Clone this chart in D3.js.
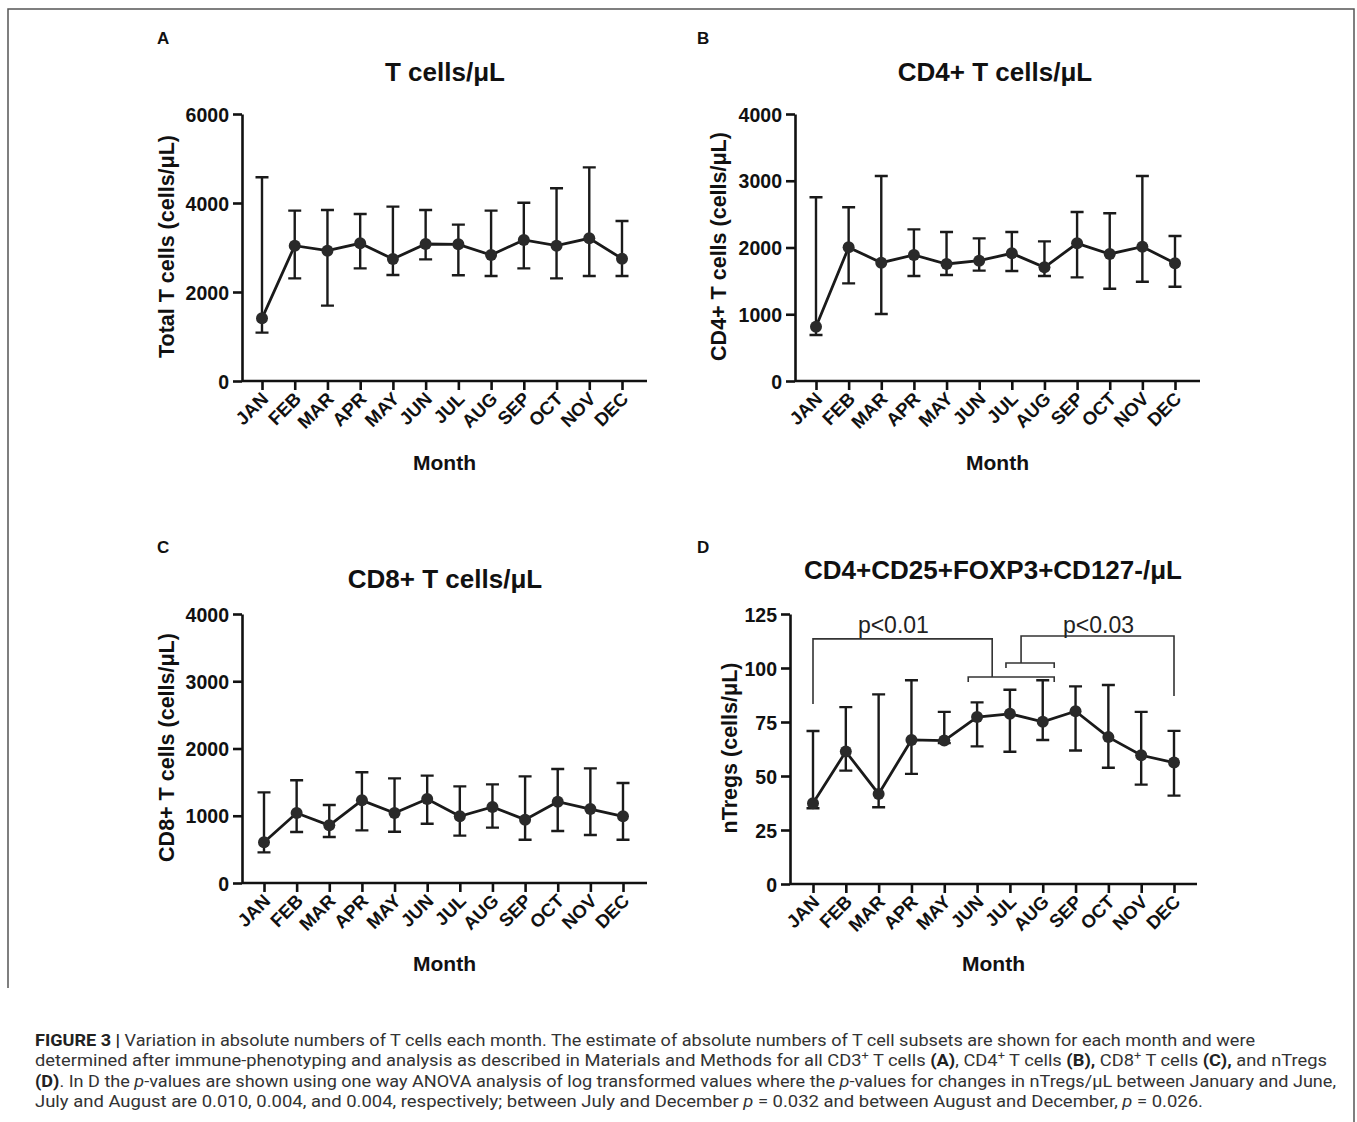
<!DOCTYPE html>
<html>
<head>
<meta charset="utf-8">
<script src="https://cdn.jsdelivr.net/npm/d3@7"></script>
<style>
body{margin:0;background:#fff}
svg{display:block}
.tick text{font-family:"Liberation Sans",Arial,sans-serif;font-weight:bold;fill:#111}
</style>
</head>
<body>
<svg id="fig" width="1357" height="1122"></svg>
<script>
// months on the x axis
const months = ["JAN","FEB","MAR","APR","MAY","JUN","JUL","AUG","SEP","OCT","NOV","DEC"];

// A - total T cells / uL
const tMean = [1408,3041,2929,3094,2742,3079,3071,2831,3169,3041,3206,2749];
const tHi   = [4577,3828,3843,3753,3918,3843,3513,3828,4007,4330,4801,3596];
const tLo   = [1086,2307,1693,2532,2382,2734,2375,2360,2532,2307,2360,2360];

// B - CD4+ T cells / uL
const cd4Mean = [814,2002,1773,1888,1753,1803,1913,1703,2062,1903,2012,1763];
const cd4Hi   = [2752,2602,3071,2272,2232,2137,2232,2092,2532,2512,3071,2172];
const cd4Lo   = [689,1463,1004,1573,1588,1653,1648,1573,1553,1383,1488,1413];

// C - CD8+ T cells / uL
const cd8Mean = [605,1041,857,1229,1041,1249,991,1130,942,1209,1100,991];
const cd8Hi   = [1347,1527,1160,1646,1556,1596,1437,1467,1586,1695,1705,1487];
const cd8Lo   = [456,758,684,783,763,882,704,823,644,773,714,644];

// D - nTregs / uL
const tregMean = [37.4,61.3,41.7,66.7,66.4,77.3,78.8,75.1,80.0,68.0,59.6,56.2];
const tregHi   = [70.8,81.9,87.8,94.3,79.7,84.1,89.9,94.3,91.5,92.1,79.7,70.9];
const tregLo   = [35.1,52.5,35.5,51.0,65.2,63.7,61.2,66.7,61.8,53.8,46.0,40.9];

// significance brackets in panel D (month index, value)
const brackets = [
  {pts:[[0,83.3],[0,113.5],[5.46,113.5],[5.46,95.8]]},
  {pts:[[4.73,93.5],[4.73,95.8],[7.35,95.8],[7.35,93.5]]},
  {pts:[[5.88,100],[5.88,102.3],[7.35,102.3],[7.35,100]]},
  {pts:[[6.34,102.3],[6.34,114.8],[11,114.8],[11,87]]}
];
const pLabels = [{text:"p<0.01", x:2.45, y:116}, {text:"p<0.03", x:8.7, y:116}];

const svg = d3.select("#fig");
const FONT = '"Liberation Sans",Arial,sans-serif';

// frame
const frame = svg.append("g").attr("stroke","#555").attr("stroke-width",1.5).attr("fill","none");
frame.append("path").attr("d","M8,988 L8,9 L1354,9 L1354,1122");

const panels = [
  {letter:"A", lx:157, ly:44, title:"T cells/\u03bcL", tx:445, ty:81,
   left:242, right:647, top:114, bottom:381, x0:262, x1:622,
   ymax:6000, yticks:[0,2000,4000,6000], ylab:"Total T cells (cells/\u03bcL)", ylx:174, mlabY:470,
   mean:tMean, hi:tHi, lo:tLo},
  {letter:"B", lx:697, ly:44, title:"CD4+ T cells/\u03bcL", tx:995, ty:81,
   left:795, right:1200, top:114, bottom:381, x0:816, x1:1175,
   ymax:4000, yticks:[0,1000,2000,3000,4000], ylab:"CD4+ T cells (cells/\u03bcL)", ylx:726, mlabY:470,
   mean:cd4Mean, hi:cd4Hi, lo:cd4Lo},
  {letter:"C", lx:157, ly:553, title:"CD8+ T cells/\u03bcL", tx:445, ty:588,
   left:242, right:647, top:614, bottom:883, x0:264, x1:623,
   ymax:4000, yticks:[0,1000,2000,3000,4000], ylab:"CD8+ T cells (cells/\u03bcL)", ylx:174, mlabY:971,
   mean:cd8Mean, hi:cd8Hi, lo:cd8Lo},
  {letter:"D", lx:697, ly:553, title:"CD4+CD25+FOXP3+CD127-/\u03bcL", tx:993, ty:579,
   left:790, right:1197, top:614, bottom:884, x0:813, x1:1174,
   ymax:125, yticks:[0,25,50,75,100,125], ylab:"nTregs (cells/\u03bcL)", ylx:737, mlabY:971,
   mean:tregMean, hi:tregHi, lo:tregLo, brackets:true}
];

panels.forEach(p => {
  const g = svg.append("g");
  const x = d3.scaleLinear().domain([0, 11]).range([p.x0, p.x1]);
  const y = d3.scaleLinear().domain([0, p.ymax]).range([p.bottom, p.top]);

  g.append("text").attr("x", p.lx).attr("y", p.ly).text(p.letter)
    .attr("font-family", FONT).attr("font-weight", "bold").attr("font-size", 17).attr("fill", "#111");
  g.append("text").attr("x", p.tx).attr("y", p.ty).text(p.title)
    .attr("text-anchor", "middle").attr("font-family", FONT).attr("font-weight", "bold")
    .attr("font-size", 26).attr("fill", "#111");

  // y axis
  const ya = g.append("g").attr("transform", `translate(${p.left},0)`)
    .call(d3.axisLeft(y).tickValues(p.yticks).tickSize(9).tickSizeOuter(0).tickPadding(4).tickFormat(d3.format("d")));
  ya.selectAll("text").attr("font-size", 19.5).attr("dy", "0.36em");

  // x axis
  const xa = g.append("g").attr("transform", `translate(0,${p.bottom})`)
    .call(d3.axisBottom(x).tickValues(d3.range(12)).tickSize(9).tickFormat(i => months[i]));
  xa.select(".domain").remove();
  xa.selectAll("text")
    .attr("font-size", 18.5)
    .attr("text-anchor", "end")
    .attr("dy", null).attr("y", 0)
    .attr("transform", "translate(7,19) rotate(-45)");
  g.append("line").attr("x1", p.left).attr("x2", p.right).attr("y1", p.bottom).attr("y2", p.bottom)
    .attr("stroke", "#111").attr("stroke-width", 2.6);
  g.selectAll(".domain, .tick line").attr("stroke", "#111").attr("stroke-width", 2.6);

  g.append("text").attr("transform", `translate(${p.ylx},${(p.top + p.bottom) / 2 - 1}) rotate(-90)`)
    .text(p.ylab).attr("text-anchor", "middle").attr("font-family", FONT).attr("font-weight", "bold")
    .attr("font-size", 21.5).attr("fill", "#111");
  g.append("text").attr("x", (p.left + p.right) / 2).attr("y", p.mlabY).text("Month")
    .attr("text-anchor", "middle").attr("font-family", FONT).attr("font-weight", "bold")
    .attr("font-size", 21).attr("fill", "#111");

  // error bars
  const eb = g.append("g").attr("stroke", "#1a1a1a").attr("stroke-width", 2.4).attr("fill", "none");
  eb.selectAll("path").data(d3.range(12)).join("path")
    .attr("d", i => {
      const cx = x(i), a = y(p.hi[i]), b = y(p.lo[i]);
      return `M${cx - 6.5},${a}H${cx + 6.5}M${cx},${a}V${b}M${cx - 6.5},${b}H${cx + 6.5}`;
    });

  // mean line + points
  const line = d3.line().x((d, i) => x(i)).y(d => y(d));
  g.append("path").datum(p.mean).attr("d", line).attr("fill", "none")
    .attr("stroke", "#1a1a1a").attr("stroke-width", 2.8);
  g.selectAll("circle.pt").data(p.mean).join("circle").attr("class", "pt")
    .attr("cx", (d, i) => x(i)).attr("cy", d => y(d)).attr("r", 6).attr("fill", "#2a2a2a");

  if (p.brackets) {
    const bl = d3.line().x(d => x(d[0])).y(d => y(d[1]));
    g.selectAll("path.br").data(brackets).join("path").attr("class", "br")
      .attr("d", d => bl(d.pts)).attr("fill", "none").attr("stroke", "#333").attr("stroke-width", 1.6);
    g.selectAll("text.pv").data(pLabels).join("text").attr("class", "pv")
      .attr("x", d => x(d.x)).attr("y", d => y(d.y)).text(d => d.text)
      .attr("text-anchor", "middle").attr("font-family", FONT).attr("font-size", 23).attr("fill", "#222");
  }
});

// caption
const capFont = 'Roboto,"Liberation Sans",Arial,sans-serif';
const caption = [
  {y:1046, w:1220, parts:[["FIGURE 3 | ","b"],["Variation in absolute numbers of T cells each month. The estimate of absolute numbers of T cell subsets are shown for each month and were",""]]},
  {y:1066, w:1292, parts:[["determined after immune-phenotyping and analysis as described in Materials and Methods for all CD3",""],["+","s"],[" T cells ",""],["(A)","b"],[", CD4",""],["+","s"],[" T cells ",""],["(B),","b"],[" CD8",""],["+","s"],[" T cells ",""],["(C),","b"],[" and nTregs",""]]},
  {y:1087, w:1301, parts:[["(D)","b"],[". In D the ",""],["p","i"],["-values are shown using one way ANOVA analysis of log transformed values where the ",""],["p","i"],["-values for changes in nTregs/\u03bcL between January and June,",""]]},
  {y:1107, w:1168, parts:[["July and August are 0.010, 0.004, and 0.004, respectively; between July and December ",""],["p","i"],[" = 0.032 and between August and December, ",""],["p","i"],[" = 0.026.",""]]}
];
caption.forEach(l => {
  const t = svg.append("text").attr("x", 35).attr("y", l.y).attr("font-family", capFont)
    .attr("font-size", 16.5).attr("fill", "#333")
    .attr("textLength", l.w).attr("lengthAdjust", "spacingAndGlyphs");
  l.parts.forEach(([s, st]) => {
    const ts = t.append("tspan").text(s);
    if (st === "b") ts.attr("font-weight", "bold").attr("fill", "#222");
    if (st === "i") ts.attr("font-style", "italic");
    if (st === "s") ts.attr("font-size", 11.5).attr("baseline-shift", "super");
  });
});
</script>
</body>
</html>
